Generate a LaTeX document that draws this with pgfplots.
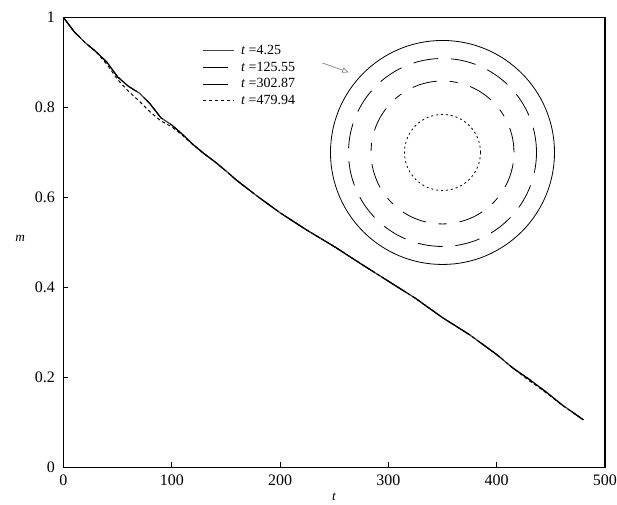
\documentclass[border=0pt]{standalone}
\usepackage{pgfplots}
\usepackage{pgfplotstable}
\pgfplotsset{compat=1.18}
\usepackage{fontspec}
\setmainfont{Liberation Serif}
\usetikzlibrary{arrows.meta}

\pgfplotstableread{
t m
0 1.000
5 0.984
10 0.968
20 0.944
30 0.924
40 0.901
50 0.868
60 0.847
70 0.832
80 0.808
90 0.777
100 0.761
110 0.740
120 0.717
130 0.697
140 0.679
150 0.659
160 0.638
180 0.601
200 0.566
225 0.527
250 0.491
275 0.452
300 0.414
325 0.376
350 0.333
375 0.295
400 0.251
415 0.221
430 0.196
445 0.169
460 0.140
480 0.106
}\mainA

\pgfplotstableread{
t m
0 1.000
5 0.984
10 0.968
20 0.944
30 0.924
40 0.896
50 0.862
60 0.836
70 0.814
80 0.790
90 0.770
100 0.757
110 0.738
120 0.716
130 0.697
140 0.679
150 0.659
160 0.638
180 0.601
200 0.566
225 0.527
250 0.491
275 0.452
300 0.414
325 0.376
350 0.333
375 0.295
400 0.251
415 0.221
430 0.193
440 0.176
450 0.158
460 0.139
480 0.106
}\mainD

\begin{document}
\begin{tikzpicture}
\useasboundingbox (0,0) rectangle (462.75pt,378pt);
\begin{axis}[
  at={(47.6pt,27.4pt)}, anchor=south west,
  scale only axis,
  width=406.1pt, height=337.5pt,
  xmin=0, xmax=500, ymin=0, ymax=1,
  xtick={0,100,200,300,400,500},
  ytick={0,0.2,0.4,0.6,0.8,1},
  tick align=inside,
  xtick pos=bottom, ytick pos=left,
  major tick length=3.75pt,
  tick style={line width=0.8pt, black},
  axis line style={line width=1pt},
  /pgf/number format/assume math mode=true,
  tick label style={font=\fontsize{12}{14}\selectfont},
  yticklabel style={xshift=-3pt},
  xticklabel style={yshift=-2pt},
  xlabel={\textit{t}}, ylabel={\textit{m}},
  label style={font=\fontsize{12}{14}\selectfont},
  every axis x label/.style={at={(axis description cs:0.5,-0.066)}, anchor=center},
  every axis y label/.style={at={(axis description cs:-0.08,0.51)}, anchor=center},
  legend image code/.code={\draw[#1] (0pt,0pt) -- (23pt,0pt);},
  legend style={at={(axis cs:128,0.945)}, anchor=north west, draw=none, fill=none,
    inner sep=0pt, font=\fontsize{10.5}{12.5}\selectfont,
    nodes={inner sep=1pt, text height=8pt, text depth=2.5pt},
    column sep=4pt, row sep=0pt},
  legend cell align=left,
]
\addplot[gray!55!black, line width=1pt] table[x=t,y=m] {\mainA};
\addlegendentry{\textit{t} =4.25}
\addplot[black, line width=0.7pt, dash pattern=on 18.75pt off 9.75pt] table[x=t,y=m] {\mainA};
\addlegendentry{\textit{t} =125.55}
\addplot[black, line width=0.7pt, dash pattern=on 18.75pt off 9.75pt on 6pt off 9.75pt] table[x=t,y=m] {\mainA};
\addlegendentry{\textit{t} =302.87}
\addplot[black, line width=0.7pt, dash pattern=on 2.5pt off 2pt] table[x=t,y=m] {\mainD};
\addlegendentry{\textit{t} =479.94}

\draw[black, line width=0.6pt] (axis cs:350,0.7) circle[radius=84pt];
\draw[black, line width=0.6pt, dash pattern=on 18.75pt off 9.75pt] (axis cs:350,0.7) circle[radius=70.5pt];
\draw[black, line width=0.6pt, dash pattern=on 18.75pt off 9.75pt on 6pt off 9.75pt] (axis cs:350,0.7) circle[radius=53.6pt];
\draw[black, line width=0.6pt, dash pattern=on 1.5pt off 2.2pt] (axis cs:350,0.7) circle[radius=28.5pt];
\draw[gray, line width=0.5pt, -{Triangle[open, length=5pt, width=4pt]}] (axis cs:239,0.899) -- (axis cs:263.5,0.878);
\end{axis}
\end{tikzpicture}
\end{document}
